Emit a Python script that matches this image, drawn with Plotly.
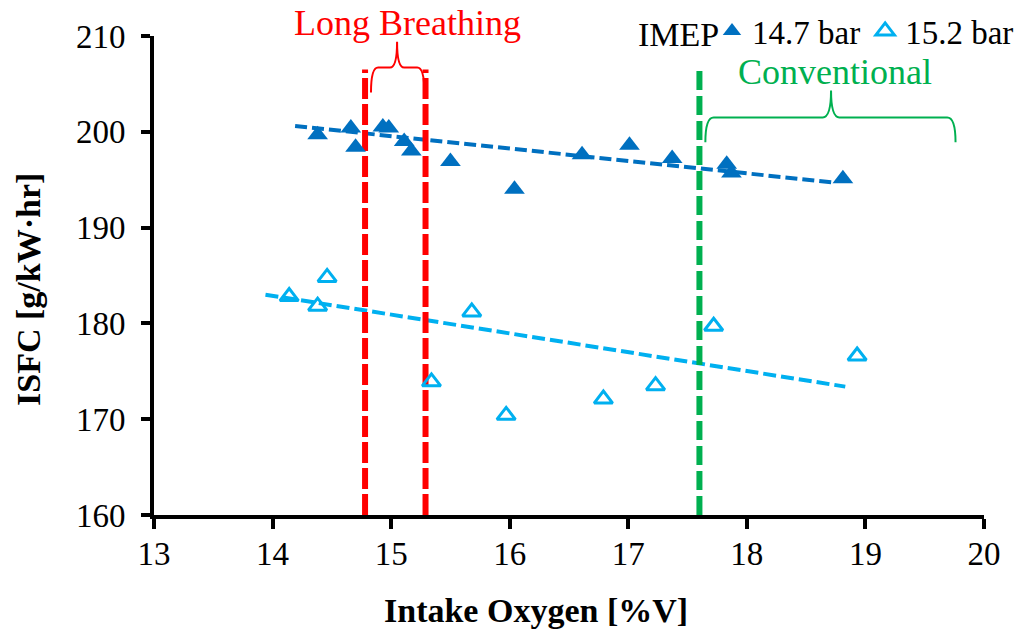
import plotly.graph_objects as go

# ---- data ----
x_147 = [14.38, 14.66, 14.70, 14.93, 14.98, 15.11, 15.17, 15.50, 16.04, 16.61, 17.01, 17.37, 17.83, 17.87, 18.81]
y_147 = [199.7, 200.4, 198.4, 200.5, 200.4, 199.0, 198.0, 196.9, 194.0, 197.6, 198.6, 197.2, 196.6, 195.7, 195.1]
x_152 = [14.14, 14.38, 14.46, 15.34, 15.68, 15.97, 16.79, 17.23, 17.72, 18.93]
y_152 = [182.8, 181.8, 184.8, 173.9, 181.2, 170.4, 172.1, 173.5, 179.7, 176.6]
trend_x_147 = [14.19, 18.74]
trend_y_147 = [200.6, 194.7]
trend_x_152 = [13.94, 18.83]
trend_y_152 = [183.0, 173.4]
long_breathing_x = [14.78, 15.29]
conventional_x = [17.60]
marker_top = 206.5
x_ticks = [13, 14, 15, 16, 17, 18, 19, 20]
y_ticks = [160, 170, 180, 190, 200, 210]

C1 = "#0070C0"
C2 = "#00B0F0"
RED = "#FF0000"
GREEN = "#00B050"
FONT = "Liberation Serif"

FIG_W, FIG_H = 1021, 631
W0, W1, H0, H1 = 154, 984, 36, 515   # plot area in pixels


def px(xp):
    return (xp - W0) / (W1 - W0)


def py(yp):
    return (H1 - yp) / (H1 - H0)


fig = go.Figure()

# trendlines
fig.add_trace(go.Scatter(x=trend_x_147, y=trend_y_147, mode="lines", showlegend=False,
                         line=dict(color=C1, width=4, dash="12px,5px"), hoverinfo="skip"))
fig.add_trace(go.Scatter(x=trend_x_152, y=trend_y_152, mode="lines", showlegend=False,
                         line=dict(color=C2, width=4, dash="13px,5px"), hoverinfo="skip"))

# vertical region lines
for xv in long_breathing_x:
    fig.add_trace(go.Scatter(x=[xv, xv], y=[160, marker_top], mode="lines", showlegend=False,
                             line=dict(color=RED, width=6, dash="21px,5px"), hoverinfo="skip"))
for xv in conventional_x:
    fig.add_trace(go.Scatter(x=[xv, xv], y=[160, marker_top], mode="lines", showlegend=False,
                             line=dict(color=GREEN, width=6, dash="19px,6px"), hoverinfo="skip"))

fig.add_trace(go.Scatter(x=x_147, y=y_147, mode="markers", name="14.7 bar",
                         marker=dict(symbol="triangle-up", size=18, color=C1)))
fig.add_trace(go.Scatter(x=x_152, y=y_152, mode="markers", name="15.2 bar",
                         marker=dict(symbol="triangle-up-open", size=16, color=C2,
                                     line=dict(width=3, color=C2))))


def brace(x0, x1, xm, ybase, ytop, ytip, rx):
    return (f"M {x0},{ybase} Q {x0},{ytop} {x0+rx},{ytop} "
            f"L {xm-rx},{ytop} Q {xm},{ytop} {xm},{ytip} "
            f"Q {xm},{ytop} {xm+rx},{ytop} L {x1-rx},{ytop} Q {x1},{ytop} {x1},{ybase}")


fig.add_shape(type="path", path=brace(14.83, 15.28, 15.05, 204.1, 206.7, 209.4, 0.06),
              line=dict(color=RED, width=2), xref="x", yref="y")
fig.add_shape(type="path", path=brace(17.65, 19.76, 18.71, 198.9, 201.5, 204.3, 0.07),
              line=dict(color=GREEN, width=2), xref="x", yref="y")

ax = dict(xref="paper", yref="paper", showarrow=False, xanchor="center", yanchor="middle")
fig.add_annotation(x=px(407), y=py(23), text="Long Breathing",
                   font=dict(family=FONT, size=36, color=RED), **ax)
fig.add_annotation(x=px(835), y=py(72), text="Conventional",
                   font=dict(family=FONT, size=36, color=GREEN), **ax)
fig.add_annotation(x=px(536), y=py(610), text="<b>Intake Oxygen [%V]</b>",
                   font=dict(family=FONT, size=34, color="black"), **ax)
fig.add_annotation(x=px(28), y=py(290), text="<b>ISFC [g/kW·hr]</b>", textangle=-90,
                   font=dict(family=FONT, size=34, color="black"), **ax)
fig.add_annotation(x=px(721), y=py(34), text="IMEP", xref="paper", yref="paper", showarrow=False,
                   xanchor="right", yanchor="middle", font=dict(family=FONT, size=34, color="black"))

fig.update_layout(
    width=FIG_W, height=FIG_H,
    margin=dict(l=W0, r=FIG_W - W1, t=H0, b=FIG_H - H1, autoexpand=False),
    paper_bgcolor="white", plot_bgcolor="white",
    font=dict(family=FONT, size=33, color="black"),
    legend=dict(orientation="h", x=px(1019), y=py(31), xanchor="right", yanchor="middle",
                font=dict(family=FONT, size=33), bgcolor="rgba(0,0,0,0)",
                itemwidth=30, tracegroupgap=0),
    xaxis=dict(range=[13, 20], tickvals=x_ticks, showgrid=False, zeroline=False,
               showline=True, linecolor="black", linewidth=4, ticks="outside", ticklen=10,
               tickwidth=4, tickcolor="black", tickfont=dict(family=FONT, size=33),
               ticklabelstandoff=-4),
    yaxis=dict(range=[160, 210], tickvals=y_ticks, showgrid=False, zeroline=False,
               showline=True, linecolor="black", linewidth=4, ticks="outside", ticklen=9,
               tickwidth=4, tickcolor="black", tickfont=dict(family=FONT, size=33),
               ticklabelposition="outside", ticklabelstandoff=9),
)

fig.write_html("out.html", post_script="document.body.style.margin='0px';",
               config={"displayModeBar": False})
